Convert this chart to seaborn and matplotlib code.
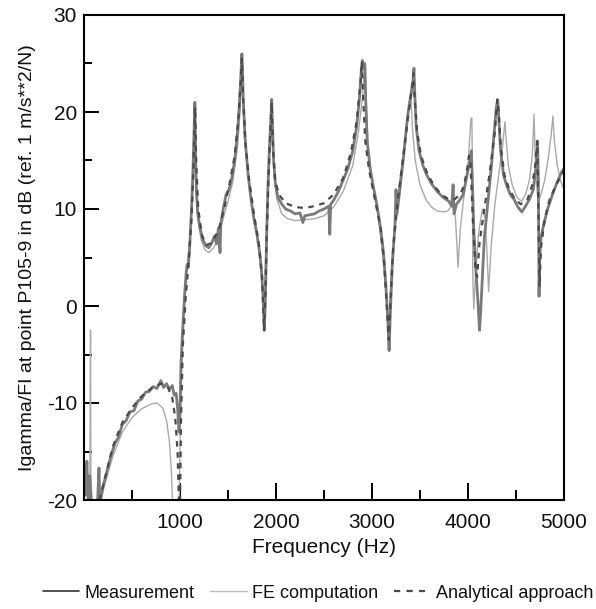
import numpy as np
import pandas as pd
import matplotlib
matplotlib.use("Agg")
import matplotlib.pyplot as plt
import seaborn as sns
from matplotlib.ticker import MultipleLocator, FixedLocator

sns.set_style("white")
plt.rcParams["font.family"] = ["Liberation Sans", "DejaVu Sans"]
plt.rcParams["axes.unicode_minus"] = False

# Measurement (frequency in Hz, level in dB)
meas_f = [0, 15, 30, 45, 60, 80, 110, 140, 156, 165, 200, 240, 280, 320, 360, 400, 440, 480,
          520, 560, 600, 640, 680, 720, 760, 800, 830, 860, 890, 920, 940, 960, 975, 990, 1000,
          1010, 1030, 1050, 1065, 1075, 1085, 1100, 1120, 1135, 1145, 1155, 1162, 1170, 1185,
          1210, 1240, 1270, 1300, 1330, 1360, 1380, 1400, 1417, 1425, 1450, 1480, 1510, 1540,
          1570, 1600, 1620, 1635, 1645, 1652, 1660, 1680, 1710, 1740, 1770, 1800, 1830, 1850,
          1865, 1878, 1888, 1900, 1915, 1930, 1945, 1955, 1962, 1975, 1995, 2020, 2060, 2100,
          2150, 2200, 2250, 2280, 2300, 2350, 2400, 2450, 2500, 2550, 2560, 2570, 2600, 2650,
          2700, 2750, 2800, 2840, 2870, 2890, 2900, 2910, 2925, 2935, 2950, 2980, 3010, 3050,
          3090, 3120, 3145, 3165, 3178, 3190, 3210, 3240, 3250, 3260, 3290, 3330, 3370, 3400,
          3425, 3437, 3445, 3460, 3490, 3530, 3570, 3620, 3680, 3740, 3800, 3830, 3845, 3855,
          3880, 3920, 3950, 3980, 4010, 4035, 4045, 4060, 4080, 4100, 4120, 4130, 4150, 4170,
          4190, 4210, 4240, 4270, 4295, 4310, 4320, 4340, 4370, 4400, 4440, 4480, 4520, 4560,
          4600, 4640, 4680, 4710, 4725, 4733, 4740, 4748, 4760, 4790, 4830, 4880, 4930, 4980, 5000]
meas_db = [-17, -19.5, -16, -20.5, -17.5, -20.5, -21, -20.5, -16.7, -20.5, -18.5, -17, -15.5, -14.2,
           -13.5, -12.2, -11.8, -10.9, -10.8, -9.8, -9.6, -8.9, -8.8, -8.3, -8.5, -7.7, -8.4, -8.0,
           -8.6, -8.2, -9.2, -9.0, -10.5, -13, -11, -6, -2, 1.5, 3.5, 4.3, 4.0, 6, 10, 14, 17.5, 21.0,
           16, 12, 9.5, 8, 6.8, 6.2, 6.0, 6.5, 7.2, 6.4, 8, 5.5, 8.5, 10, 11.5, 12, 13.2, 15, 18, 21,
           24, 26, 24, 21, 17, 13.5, 11, 9, 7.5, 5.5, 3.5, 1, -2.5, 0, 6, 12, 16, 19, 21.3, 19, 15,
           12.5, 11.2, 10.5, 10, 9.8, 9.5, 9.6, 8.6, 9.3, 9.4, 9.5, 9.8, 10, 10.3, 7.4, 10.5, 10.9,
           11.8, 13, 14.2, 16, 18.5, 21.5, 24.5, 25.3, 24.5, 25, 21, 17, 14.2, 12.5, 10.5, 8, 5.5, 2,
           -1.5, -4.6, -1, 4, 8.5, 12, 9.5, 12, 15.5, 19.5, 21.5, 23, 24.5, 22, 18.5, 16, 14.5, 13.5,
           12.6, 11.8, 11.2, 10.8, 10.3, 12.5, 9.5, 10.5, 11, 11.5, 13, 14.5, 16, 13, 8, 4, 1, -2.5,
           -1, 3, 7, 9, 11, 14, 17.5, 20.5, 21.2, 19.5, 16, 13.5, 12.5, 11.5, 11, 10.2, 9.7, 10.3, 11,
           12, 14.5, 17, 13, 1, 5, 7, 8.5, 10, 11.5, 12.8, 13.9, 14.2]

# FE computation
fe_f = [0, 60, 68, 72, 100, 150, 200, 300, 400, 500, 600, 700, 760, 820, 860, 890, 910, 925, 990,
        1010, 1040, 1070, 1100, 1130, 1150, 1157, 1165, 1185, 1220, 1260, 1300, 1350, 1400, 1450,
        1500, 1550, 1600, 1625, 1640, 1648, 1656, 1680, 1720, 1770, 1820, 1860, 1875, 1885, 1900,
        1925, 1945, 1955, 1965, 1985, 2010, 2060, 2120, 2200, 2300, 2400, 2500, 2600, 2700, 2800,
        2860, 2900, 2920, 2930, 2940, 2960, 3000, 3060, 3110, 3150, 3170, 3185, 3210, 3260, 3310,
        3360, 3390, 3405, 3420, 3450, 3500, 3560, 3620, 3680, 3740, 3790, 3840, 3870, 3896, 3920,
        3960, 4000, 4030, 4040, 4045, 4050, 4060, 4080, 4110, 4150, 4180, 4200, 4215, 4240, 4280,
        4320, 4360, 4385, 4395, 4420, 4460, 4510, 4560, 4600, 4640, 4670, 4688, 4698, 4715, 4730,
        4760, 4800, 4840, 4870, 4885, 4900, 4930, 4960, 5000]
fe_db = [-21, -21, -2.5, -21, -21, -20.5, -19, -15.5, -13, -11.5, -10.6, -10.1, -10, -10.5, -11.8,
         -14, -17, -21, -21, -8, -1, 3.5, 6.5, 12, 19, 21, 15, 9, 6.8, 5.8, 5.5, 6, 7, 9, 10.8, 12.8,
         16.5, 20, 24, 25, 21, 16.5, 12.5, 9, 6, 2, -1, 2, 8, 14, 18.5, 21, 17, 13, 11, 9.5, 9, 8.8,
         8.9, 9, 9.3, 10.2, 11.8, 14.5, 18, 21.5, 24, 24.8, 21, 16.5, 13, 9.5, 5.5, 1, -3, 0, 5, 10.5,
         14.5, 18.5, 21, 22, 18.5, 15, 12.5, 11, 10.2, 9.8, 9.7, 9.8, 10.5, 9, 4, 8, 11.5, 14.5, 19.3,
         19.4, 15, 3, -0.3, 3.5, 7.5, 10, 9, 5, 1.5, 6, 10.5, 13.5, 16.5, 19, 17.5, 14.5, 12.5, 11.2,
         10.8, 11.5, 13, 15.5, 19.8, 16, 12.5, 10.8, 11.5, 13, 15.5, 18, 19.6, 17, 14.5, 13, 12]

# Analytical approach
ana_f = [100, 160, 200, 300, 400, 500, 600, 700, 800, 870, 920, 950, 975, 990, 1000, 1010, 1030,
         1060, 1090, 1120, 1140, 1150, 1158, 1168, 1190, 1230, 1280, 1330, 1400, 1460, 1520, 1570,
         1610, 1632, 1645, 1655, 1680, 1720, 1770, 1820, 1855, 1875, 1890, 1905, 1925, 1945, 1955,
         1965, 1990, 2030, 2100, 2200, 2300, 2400, 2500, 2600, 2700, 2780, 2840, 2880, 2895, 2905,
         2930, 2970, 3030, 3090, 3130, 3160, 3175, 3190, 3220, 3270, 3320, 3370, 3410, 3430, 3440,
         3470, 3510, 3570, 3640, 3720, 3800, 3860, 3920, 3960, 3990, 4010, 4025, 4050, 4080, 4095,
         4120, 4170, 4230, 4280, 4305, 4320, 4340, 4380, 4430, 4490, 4550, 4620, 4670, 4700, 4720,
         4730, 4745, 4760, 4800, 4850, 4920, 5000]
ana_db = [-21, -20, -18.5, -14.5, -12, -10.5, -9.3, -8.5, -8, -8.3, -9.5, -11.5, -15, -21, -21, -12,
          -4, 1, 4.5, 9, 14, 18, 20.5, 15, 10, 7.2, 6.3, 6.5, 7.8, 10, 12.8, 15.5, 19.5, 23, 25.5, 22,
          17, 13, 9.5, 6.5, 3, -2.5, 1.5, 8, 14, 19, 21, 17, 13, 11.5, 10.6, 10.2, 10.1, 10.3, 10.6,
          11.5, 13.2, 15.8, 19, 23, 25.2, 22, 17, 14, 11, 8, 4, -1, -3.5, 0, 6, 11, 15, 19, 22, 24, 22,
          18, 15.5, 13.8, 12.5, 11.5, 11, 11, 11.5, 12.5, 14, 15.5, 15, 9, 3.5, 3, 6.5, 10, 14, 18,
          21.3, 20, 16.5, 13.5, 12, 11, 10.5, 11, 12.5, 14.5, 17, 12, 2, 6, 9, 11, 12.5, 14]

x_ticks = [1000, 2000, 3000, 4000, 5000]
y_ticks = [-20, -10, 0, 10, 20, 30]

fig = plt.figure(figsize=(5.96, 6.09), dpi=100)
ax = fig.add_axes([84 / 596, 1 - 500 / 609, 480 / 596, 485 / 609])

sns.lineplot(x=fe_f, y=fe_db, ax=ax, sort=False, estimator=None, color="#a9a9a9", lw=1.0,
             label="FE computation")
sns.lineplot(x=meas_f, y=meas_db, ax=ax, sort=False, estimator=None, color="#7a7a7a", lw=2.0,
             label="Measurement")
sns.lineplot(x=ana_f, y=ana_db, ax=ax, sort=False, estimator=None, color="#4a4a4a", lw=1.6,
             label="Analytical approach", linestyle=(0, (2.5, 2.5)))

ax.set_xlim(0, 5000)
ax.set_ylim(-20, 30)
ax.xaxis.set_major_locator(FixedLocator(x_ticks))
ax.xaxis.set_minor_locator(MultipleLocator(500))
ax.yaxis.set_major_locator(FixedLocator(y_ticks))
ax.yaxis.set_minor_locator(MultipleLocator(5))
ax.tick_params(which="both", direction="in", bottom=True, left=True, top=False, right=False,
               labelsize=15, width=1.4, color="black", labelcolor="#111111")
ax.tick_params(axis="y", which="major", length=11, pad=5)
ax.tick_params(axis="y", which="minor", length=6)
ax.tick_params(axis="x", which="major", length=12, pad=9)
ax.tick_params(axis="x", which="minor", length=7)
for s in ax.spines.values():
    s.set_linewidth(1.5)
    s.set_color("black")

ax.set_xlabel("Frequency (Hz)", fontsize=15, labelpad=5, color="#111111")
ax.set_ylabel("Igamma/FI at point P105-9 in dB (ref. 1 m/s**2/N)", fontsize=14, labelpad=8,
              color="#111111")

ax.get_legend().remove()
handles, labels = ax.get_legend_handles_labels()
order = [1, 0, 2]
leg = fig.legend([handles[i] for i in order], [labels[i] for i in order], loc="center",
                 bbox_to_anchor=(318 / 596, 1 - 593 / 609), ncol=3, frameon=False, fontsize=13,
                 handlelength=2.0, columnspacing=0.9, handletextpad=0.3, borderpad=0.1)
for t in leg.get_texts():
    t.set_color("#111111")
leg.get_lines()[0].set_color("#333333")
leg.get_lines()[0].set_linewidth(1.2)
leg.get_lines()[1].set_color("#bbbbbb")
leg.get_lines()[2].set_linestyle((0, (2.8, 2.8)))

fig.savefig("out.png", dpi=100)
